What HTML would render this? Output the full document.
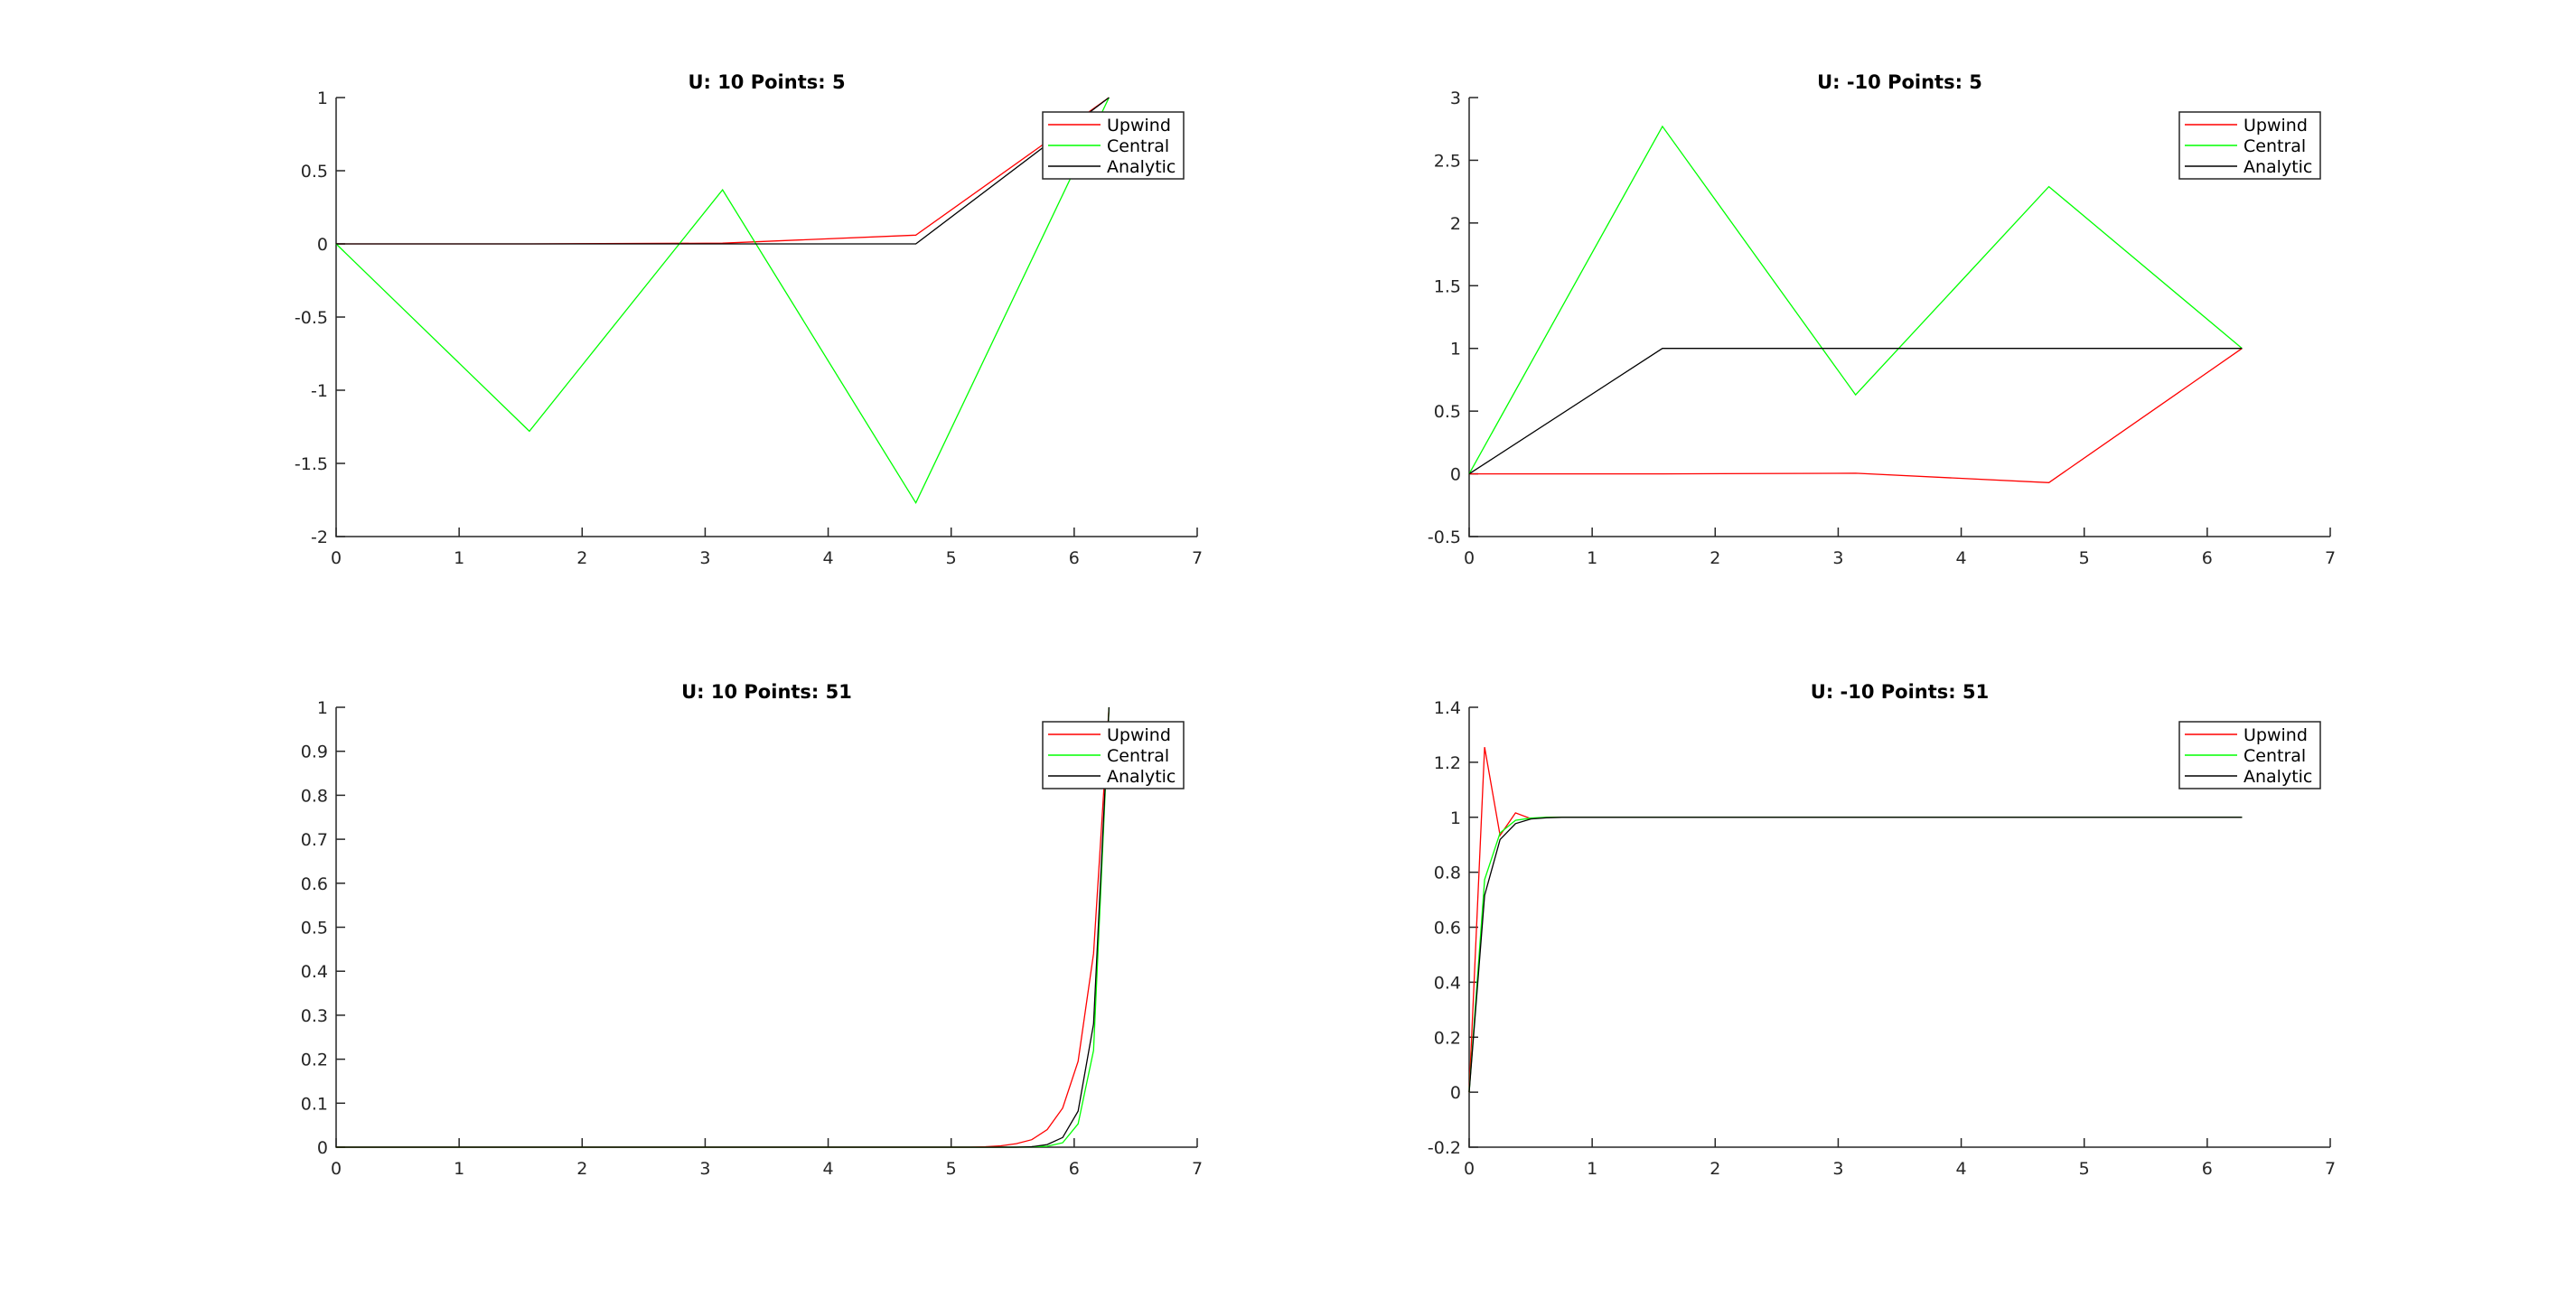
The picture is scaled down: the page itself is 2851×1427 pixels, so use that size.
<!DOCTYPE html>
<html><head><meta charset="utf-8"><style>
html,body{margin:0;padding:0;background:#fff;}
svg{display:block;font-family:"DejaVu Sans","Liberation Sans",sans-serif;}
</style></head><body>
<svg id="fig" width="2851" height="1427" viewBox="0 0 2851 1427"></svg>
<script>
const xTicks = [0,1,2,3,4,5,6,7];
const x5 = [0,1.5708,3.1416,4.7124,6.2832];
const tlUpwind = [0,0,0.005,0.06,1];
const tlCentral = [0,-1.28,0.37,-1.77,1];
const tlAnalytic = [0,0,0,0,1];
const tlYTicks = [-2,-1.5,-1,-0.5,0,0.5,1];
const trUpwind = [0,0,0.005,-0.07,1];
const trCentral = [0,2.77,0.63,2.29,1];
const trAnalytic = [0,1,1,1,1];
const trYTicks = [-0.5,0,0.5,1,1.5,2,2.5,3];
const blUpwind = [0,0,0,0,0,0,0,0,0,0,0,0,0,0,0,0,0,0,0,0,0,0,0,0,0,0,0,0,0,0,0,0,0,0,0,0,0,0,0,0,0,0,0.001,0.003,0.008,0.017,0.04,0.089,0.195,0.44,1];
const blCentral = [0,0,0,0,0,0,0,0,0,0,0,0,0,0,0,0,0,0,0,0,0,0,0,0,0,0,0,0,0,0,0,0,0,0,0,0,0,0,0,0,0,0,0,0,0,0.001,0.002,0.01,0.053,0.22,1];
const blAnalytic = [0,0,0,0,0,0,0,0,0,0,0,0,0,0,0,0,0,0,0,0,0,0,0,0,0,0,0,0,0,0,0,0,0,0,0,0,0,0,0,0,0,0,0,0,0,0.001,0.006,0.022,0.082,0.28,1];
const blYTicks = [0,0.1,0.2,0.3,0.4,0.5,0.6,0.7,0.8,0.9,1];
const brUpwind = [0,1.255,0.934,1.016,0.995,1,1,1,1,1,1,1,1,1,1,1,1,1,1,1,1,1,1,1,1,1,1,1,1,1,1,1,1,1,1,1,1,1,1,1,1,1,1,1,1,1,1,1,1,1,1];
const brCentral = [0,0.773,0.943,0.989,0.997,1,1,1,1,1,1,1,1,1,1,1,1,1,1,1,1,1,1,1,1,1,1,1,1,1,1,1,1,1,1,1,1,1,1,1,1,1,1,1,1,1,1,1,1,1,1];
const brAnalytic = [0,0.716,0.919,0.977,0.994,0.998,1,1,1,1,1,1,1,1,1,1,1,1,1,1,1,1,1,1,1,1,1,1,1,1,1,1,1,1,1,1,1,1,1,1,1,1,1,1,1,1,1,1,1,1,1];
const brYTicks = [-0.2,0,0.2,0.4,0.6,0.8,1,1.2,1.4];
const x51 = [];
for (let i = 0; i <= 50; i++) x51.push(2*Math.PI*i/50);

const NS = 'http://www.w3.org/2000/svg';
const svg = document.getElementById('fig');
function mk(tag, attrs, parent) {
  const e = document.createElementNS(NS, tag);
  for (const k in attrs) e.setAttribute(k, attrs[k]);
  (parent || svg).appendChild(e);
  return e;
}
function panel(name, L, T, W, H, ymin, ymax, yTicks, title, xs, ups, cen, ana, legX) {
  const g = mk('g', {});
  
  
  const sx = v => L + (v - 0) / 7 * W;
  const sy = v => T + H - (v - ymin) / (ymax - ymin) * H;
  const axes = mk('path', {d:`M${L},${T} L${L},${T+H} L${L+W},${T+H}`, fill:'none', stroke:'#262626', 'stroke-width':1.5}, g);
  
  
  xTicks.forEach(t => {
    const x = sx(t);
    mk('line', {x1:x, y1:T+H, x2:x, y2:T+H-10, stroke:'#262626', 'stroke-width':1.5}, g);
    const tx = mk('text', {x:x, y:T+H+30, 'font-size':19, 'text-anchor':'middle', fill:'#262626'}, g);
    tx.textContent = t;
    
    
  });
  yTicks.forEach(t => {
    const y = sy(t);
    mk('line', {x1:L, y1:y, x2:L+10, y2:y, stroke:'#262626', 'stroke-width':1.5}, g);
    const tx = mk('text', {x:L-9, y:y+7, 'font-size':19, 'text-anchor':'end', fill:'#262626'}, g);
    tx.textContent = t;
    
    
  });
  const tt = mk('text', {x:L+W/2, y:T-10, 'font-size':21, 'font-weight':'bold', 'text-anchor':'middle', fill:'#000'}, g);
  tt.textContent = title;
  
  
  const series = [[ups,'#ff0000','upwind-line'],[cen,'#00ff00','central-line'],[ana,'#000000','analytic-line']];
  series.forEach(s => {
    const pts = xs.map((x,i) => sx(x).toFixed(1)+','+sy(s[0][i]).toFixed(1)).join(' ');
    const pl = mk('polyline', {points:pts, fill:'none', stroke:s[1], 'stroke-width':1.3}, g);
    
    
  });
  const lg = mk('g', {}, g);
  
  
  const ly = T + 16;
  mk('rect', {x:legX, y:ly, width:156, height:74, fill:'#fff', stroke:'#262626', 'stroke-width':1.5}, lg);
  const names = ['Upwind','Central','Analytic'];
  series.forEach((s,i) => {
    const yy = ly + 14 + i*23;
    mk('line', {x1:legX+6, y1:yy, x2:legX+64, y2:yy, stroke:s[1], 'stroke-width':1.5}, lg);
    const t = mk('text', {x:legX+71, y:yy+7, 'font-size':19, fill:'#000'}, lg);
    t.textContent = names[i];
    
    
  });
}
panel('plot-u10-p5', 372, 108, 953, 486, -2, 1, tlYTicks, 'U: 10 Points: 5', x5, tlUpwind, tlCentral, tlAnalytic, 1154);
panel('plot-um10-p5', 1626, 108, 953, 486, -0.5, 3, trYTicks, 'U: -10 Points: 5', x5, trUpwind, trCentral, trAnalytic, 2412);
panel('plot-u10-p51', 372, 783, 953, 487, 0, 1, blYTicks, 'U: 10 Points: 51', x51, blUpwind, blCentral, blAnalytic, 1154);
panel('plot-um10-p51', 1626, 783, 953, 487, -0.2, 1.4, brYTicks, 'U: -10 Points: 51', x51, brUpwind, brCentral, brAnalytic, 2412);
</script>
</body></html>
